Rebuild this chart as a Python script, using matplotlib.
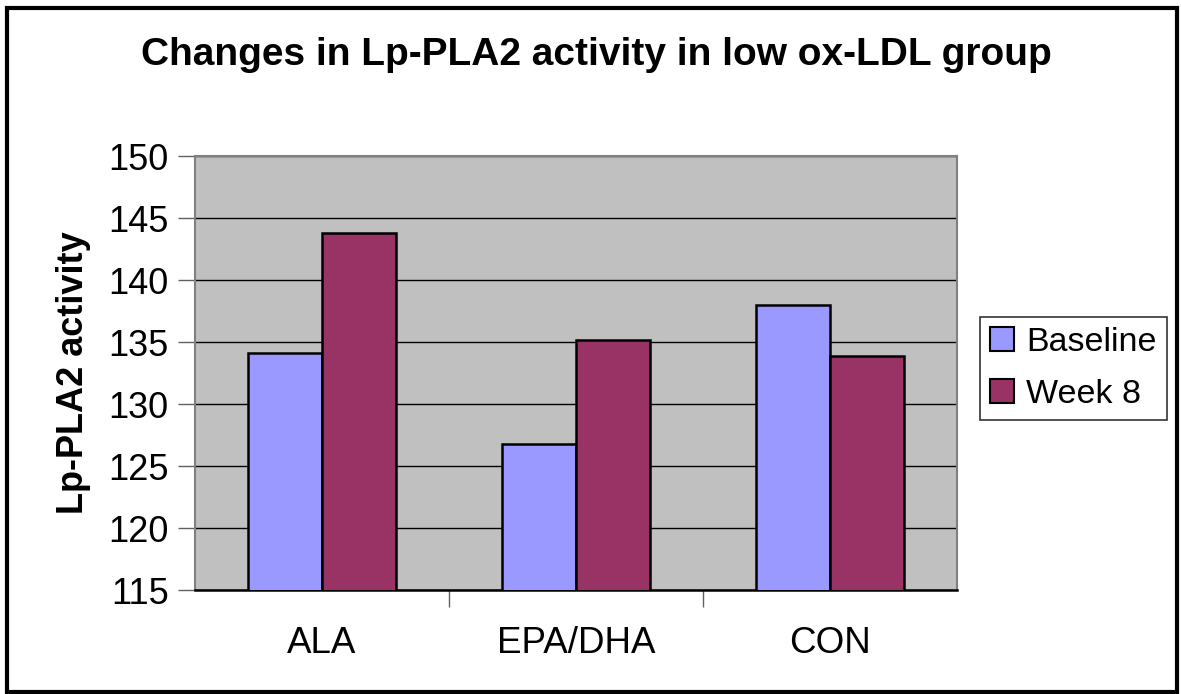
import matplotlib
matplotlib.use('Agg')
import matplotlib.pyplot as plt
import numpy as np
from matplotlib.patches import Rectangle, Patch

plt.rcParams['font.family'] = ['Liberation Sans', 'DejaVu Sans']

groups = ['ALA', 'EPA/DHA', 'CON']
baseline = [134.1, 126.8, 138.0]
week8 = [143.8, 135.2, 133.9]
series = ['Baseline', 'Week 8']
yticks = [115, 120, 125, 130, 135, 140, 145, 150]

W, H = 1181, 694
fig = plt.figure(figsize=(W / 100, H / 100), dpi=100)

# outer black frame
fig.patches.append(Rectangle((7 / W, 2 / H), 1170 / W, 684 / H, transform=fig.transFigure,
                             fill=False, edgecolor='black', linewidth=3))

ax = fig.add_axes([195 / W, 1 - 590 / H, 762 / W, 434 / H])
ax.set_facecolor('#C0C0C0')

x = np.arange(len(groups))
w = 0.29
ax.bar(x - w / 2, baseline, w, color='#9999FF', edgecolor='black', linewidth=1.8, zorder=3)
ax.bar(x + w / 2, week8, w, color='#993366', edgecolor='black', linewidth=1.8, zorder=3)

ax.set_xlim(-0.5, 2.5)
ax.set_ylim(115, 150)
ax.set_yticks(yticks)
ax.set_yticklabels([str(v) for v in yticks])
ax.yaxis.grid(True, color='black', linewidth=1, zorder=1)
ax.set_axisbelow(True)

ax.set_xticks([0.5, 1.5], minor=False)
ax.set_xticklabels([])
ax.set_xticks(x, minor=True)
ax.set_xticklabels(groups, minor=True)
ax.tick_params(axis='x', which='major', length=12, width=1, color='#606060', direction='out')
ax.tick_params(axis='x', which='minor', length=0, pad=26, labelsize=26.5)
ax.tick_params(axis='y', length=12, width=1, color='#606060', pad=7, labelsize=26)

for s in ['left', 'top', 'right']:
    ax.spines[s].set_color('#808080')
    ax.spines[s].set_linewidth(1.5)
ax.spines['bottom'].set_color('black')
ax.spines['bottom'].set_linewidth(1.8)

ax.set_ylabel('Lp-PLA2 activity', fontsize=26, fontweight='bold', labelpad=12)

fig.text(596 / W, 1 - 55 / H, 'Changes in Lp-PLA2 activity in low ox-LDL group',
         ha='center', va='center', fontsize=28, fontweight='bold')

handles = [Patch(facecolor='#9999FF', edgecolor='black', linewidth=1.5),
           Patch(facecolor='#993366', edgecolor='black', linewidth=1.5)]
leg = fig.legend(handles, series, loc='upper left', bbox_to_anchor=(980 / W, 1 - 317 / H),
                 bbox_transform=fig.transFigure, fontsize=24.5, frameon=True, fancybox=False,
                 borderaxespad=0, handlelength=0.7, handleheight=0.7, handletextpad=0.35,
                 borderpad=0.3, labelspacing=0.6)
leg.get_frame().set_edgecolor('black')
leg.get_frame().set_linewidth(1.2)

fig.savefig('out.png', dpi=100)
